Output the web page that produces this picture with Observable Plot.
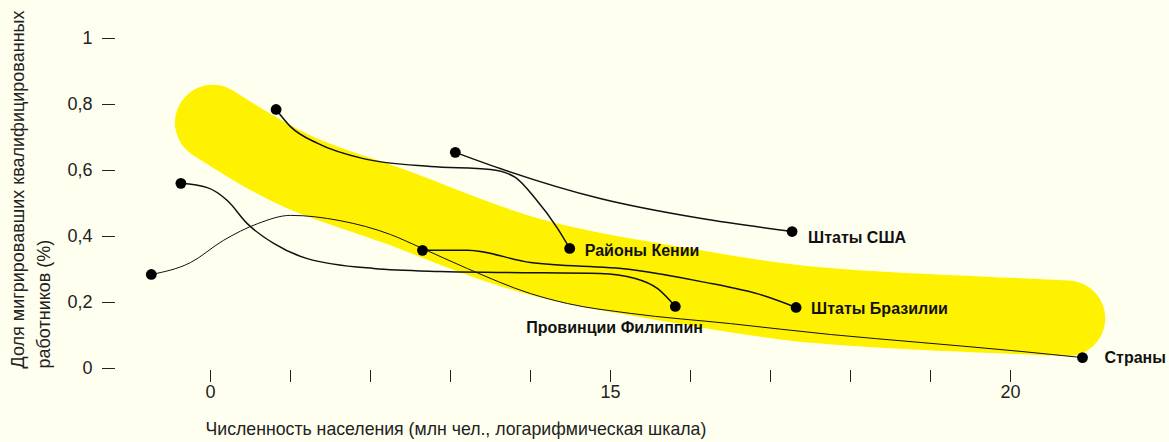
<!DOCTYPE html>
<html><head><meta charset="utf-8">
<script src="https://cdn.jsdelivr.net/npm/d3@7"></script>
<script src="https://cdn.jsdelivr.net/npm/@observablehq/plot@0.6"></script>
<style>
html,body{margin:0;padding:0;background:#fffff0;}
svg{display:block;}
</style>
</head><body><div id="chart"></div>
<script>
// Axis ticks (x in equal log-steps, labelled as in the original)
const xTicks = [0,1,2,3,4,5,6,7,8,9,10];
const xTickLabels = ["0","","","","","15","","","","","20"];
const yTicks = [0,0.2,0.4,0.6,0.8,1];
const yTickLabels = ["0","0,2","0,4","0,6","0,8","1"];

// Yellow trend band
const bandX = [0.03, 1.12, 2.37, 4.0, 5.87, 7.62, 9.87, 10.71];
const bandY = [0.745, 0.594, 0.485, 0.342, 0.252, 0.191, 0.161, 0.152];

// Series
const usaX = [3.06, 3.62, 4.87, 6.12, 7.27];
const usaY = [0.655, 0.606, 0.515, 0.455, 0.415];

const kenyaX = [0.82, 1.0, 1.34, 1.91, 2.75, 3.5, 3.81, 4.06, 4.34, 4.49];
const kenyaY = [0.785, 0.733, 0.682, 0.636, 0.612, 0.603, 0.579, 0.515, 0.424, 0.364];

const brazilX = [2.65, 3.21, 4.0, 5.25, 6.12, 6.91, 7.32];
const brazilY = [0.358, 0.358, 0.321, 0.300, 0.264, 0.221, 0.185];

const philX = [-0.37, -0.04, 0.21, 0.46, 0.79, 1.21, 2.04, 2.87, 3.62, 4.87, 5.31, 5.59, 5.81];
const philY = [0.561, 0.548, 0.509, 0.439, 0.379, 0.333, 0.303, 0.294, 0.291, 0.288, 0.273, 0.242, 0.188];

const countriesX = [-0.74, -0.25, 0.16, 0.59, 1.0, 1.62, 2.25, 2.62, 3.21, 4.0, 4.46, 5.25, 6.5, 7.75, 8.87, 10.12, 10.9];
const countriesY = [0.285, 0.321, 0.388, 0.439, 0.464, 0.448, 0.406, 0.367, 0.303, 0.227, 0.197, 0.167, 0.136, 0.103, 0.079, 0.052, 0.033];

const seriesNames = ["Штаты США", "Районы Кении", "Штаты Бразилии", "Провинции Филиппин", "Страны"];
const seriesX = [usaX, kenyaX, brazilX, philX, countriesX];
const seriesY = [usaY, kenyaY, brazilY, philY, countriesY];

const xTitle = "Численность населения (млн чел., логарифмическая шкала)";
const yTitle = "Доля мигрировавших квалифицированных\nработников (%)";

// Build tables
const band = bandX.map((x, i) => ({x, y: bandY[i]}));
const rows = seriesNames.flatMap((name, s) => seriesX[s].map((x, i) => ({name, x, y: seriesY[s][i]})));
const ends = seriesNames.flatMap((name, s) => {
  const xs = seriesX[s], ys = seriesY[s], n = xs.length - 1;
  return [{name, x: xs[0], y: ys[0]}, {name, x: xs[n], y: ys[n]}];
});
const lasts = seriesNames.map((name, s) => ({name, x: seriesX[s][seriesX[s].length - 1], y: seriesY[s][seriesY[s].length - 1]}));
const yLabelRows = yTicks.map((v, i) => ({v, label: yTickLabels[i]}));
const xLabelRows = xTicks.map((v, i) => ({v, label: xTickLabels[i]})).filter(d => d.label !== "");

const labelOffsets = {
  "Штаты США": {dx: 16, dy: 6},
  "Районы Кении": {dx: 15, dy: 2},
  "Штаты Бразилии": {dx: 15, dy: 1},
  "Провинции Филиппин": {dx: -149, dy: 21},
  "Страны": {dx: 22, dy: 0}
};

const font = "'Liberation Sans', Arial, Helvetica, sans-serif";

const chart = Plot.plot({
  width: 1169,
  height: 442,
  marginLeft: 115,
  marginRight: 0,
  marginTop: 38,
  marginBottom: 72,
  style: {background: "#fffff0", fontFamily: font, fontSize: "18px", color: "#222"},
  x: {domain: [0, 10], range: [210, 1010]},
  y: {domain: [0, 1], range: [368, 38]},
  marks: [
    Plot.axisY({ticks: yTicks, tickFormat: () => "", tickSize: 13, label: null, stroke: "#222"}),
    Plot.axisX({ticks: xTicks, tickFormat: () => "", tickSize: 12, label: null, stroke: "#222"}),
    Plot.text(yLabelRows, {y: "v", text: "label", frameAnchor: "left", dx: -23, textAnchor: "end", fontSize: 18, fill: "#222"}),
    Plot.text(xLabelRows, {x: "v", text: "label", frameAnchor: "bottom", dy: 27, textAnchor: "middle", fontSize: 18, fill: "#222"}),
    Plot.line(band, {x: "x", y: "y", stroke: "#fff200", strokeWidth: 76, strokeLinecap: "round", strokeLinejoin: "round", curve: "natural"}),
    Plot.line(rows.filter(d => d.name !== "Страны"), {x: "x", y: "y", z: "name", stroke: "#111", strokeWidth: 1.5, curve: "monotone-x"}),
    Plot.line(rows.filter(d => d.name === "Страны"), {x: "x", y: "y", stroke: "#111", strokeWidth: 1, curve: "monotone-x"}),
    Plot.dot(ends, {x: "x", y: "y", r: 5.4, fill: "#000"}),
    ...lasts.map(d => {
      const o = labelOffsets[d.name];
      return Plot.text([d], {x: "x", y: "y", text: "name", dx: o.dx, dy: o.dy, textAnchor: "start", fontSize: 16, fontWeight: "bold", fill: "#111"});
    }),
    Plot.text([xTitle], {frameAnchor: "bottom-left", text: d => d, dx: 90, dy: 64, textAnchor: "start", fontSize: 17.7, fill: "#222"}),
    Plot.text([yTitle], {frameAnchor: "bottom-left", text: d => d, dx: -110, dy: -2, rotate: -90, textAnchor: "start", lineAnchor: "top", lineHeight: 1.45, fontSize: 18, fill: "#222"})
  ]
});
document.getElementById("chart").append(chart);
</script>
</body></html>
